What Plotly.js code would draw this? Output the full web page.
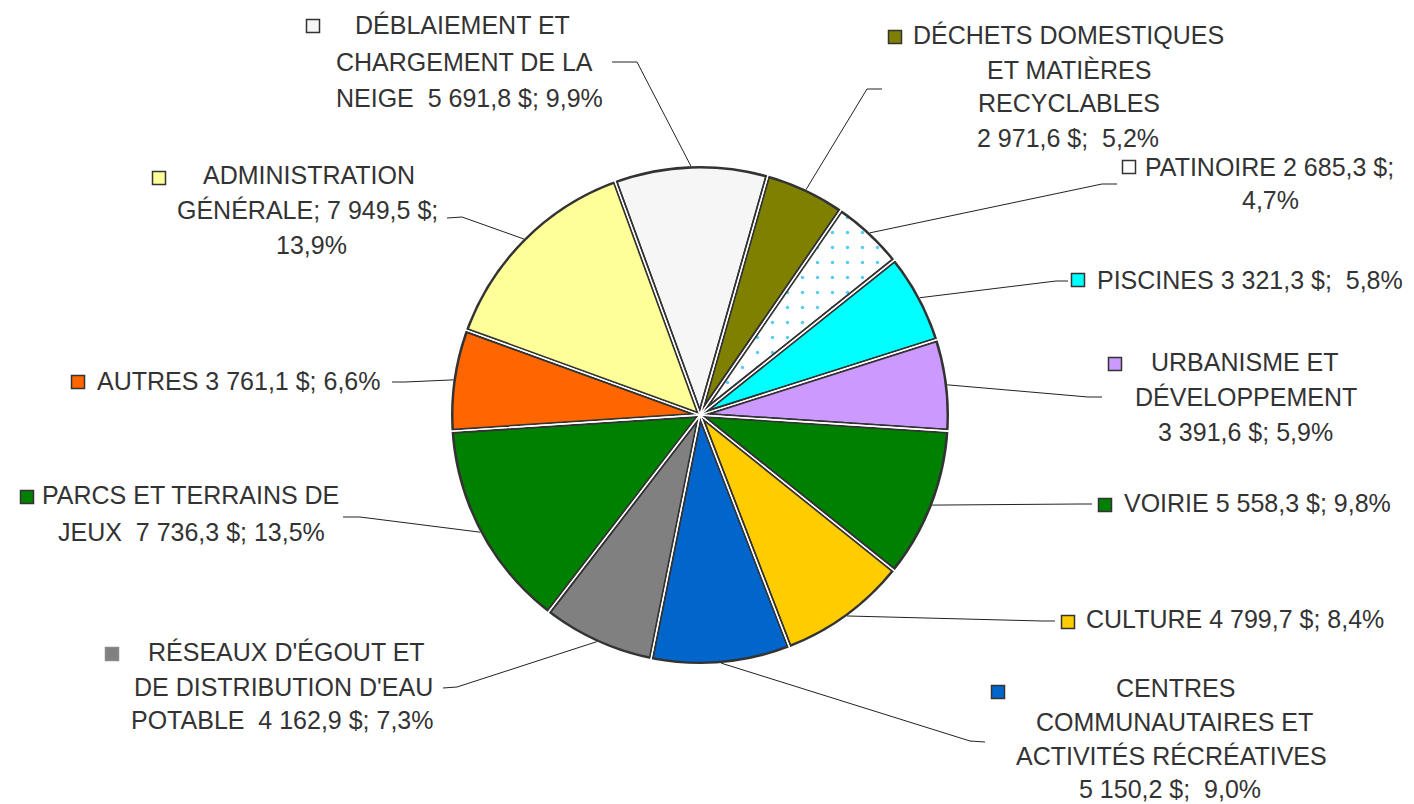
<!DOCTYPE html>
<html><head><meta charset="utf-8">
<script src="https://cdn.plot.ly/plotly-3.0.1.min.js"></script>
<style>html,body{margin:0;padding:0;background:#fff}#chart{width:1414px;height:804px}</style>
</head><body><div id="chart"></div>
<script>
// ---------- DATA ----------
const categories = [
  "DÉBLAIEMENT ET CHARGEMENT DE LA NEIGE",
  "DÉCHETS DOMESTIQUES ET MATIÈRES RECYCLABLES",
  "PATINOIRE",
  "PISCINES",
  "URBANISME ET DÉVELOPPEMENT",
  "VOIRIE",
  "CULTURE",
  "CENTRES COMMUNAUTAIRES ET ACTIVITÉS RÉCRÉATIVES",
  "RÉSEAUX D'ÉGOUT ET DE DISTRIBUTION D'EAU POTABLE",
  "PARCS ET TERRAINS DE JEUX",
  "AUTRES",
  "ADMINISTRATION GÉNÉRALE"
];
const values = [5691.8, 2971.6, 2685.3, 3321.3, 3391.6, 5558.3, 4799.7, 5150.2, 4162.9, 7736.3, 3761.1, 7949.5];
const percents = [9.9, 5.2, 4.7, 5.8, 5.9, 9.8, 8.4, 9.0, 7.3, 13.5, 6.6, 13.9];
// label text broken into lines ({v} = value, {p} = percent)
const labelLines = [
  ["DÉBLAIEMENT ET", "CHARGEMENT DE LA", "NEIGE  {v}; {p}"],
  ["DÉCHETS DOMESTIQUES", "ET MATIÈRES", "RECYCLABLES", "{v};  {p}"],
  ["PATINOIRE {v};", "{p}"],
  ["PISCINES {v};  {p}"],
  ["URBANISME ET", "DÉVELOPPEMENT", "{v}; {p}"],
  ["VOIRIE {v}; {p}"],
  ["CULTURE {v}; {p}"],
  ["CENTRES", "COMMUNAUTAIRES ET", "ACTIVITÉS RÉCRÉATIVES", "{v};  {p}"],
  ["RÉSEAUX D'ÉGOUT ET", "DE DISTRIBUTION D'EAU", "POTABLE  {v}; {p}"],
  ["PARCS ET TERRAINS DE", "JEUX  {v}; {p}"],
  ["AUTRES {v}; {p}"],
  ["ADMINISTRATION", "GÉNÉRALE; {v};", "{p}"]
];

// ---------- STYLE ----------
const colors = ["#F6F6F6", "#808000", "#FFFFFF", "#00FFFF", "#CC99FF", "#008000",
                "#FFCC00", "#0066CC", "#808080", "#008000", "#FF6600", "#FFFF99"];
const patterns = ["", "", ".", "", "", "", "", "", "", "", "", ""];
const keyBorders = ["#333", "#333", "#333", "#333", "#333", "#333", "#333", "#333", "#8a8a8a", "#333", "#333", "#333"];

// ---------- LAYOUT (pixel positions) ----------
const W = 1414, H = 804;
const CX = 700, CY = 415, R = 249;
const ROT = -20;
// per-label line centres
const lineX = [[462,464,469],[1068,1069,1069,1068],[1269,1270],[1250],[1245,1246,1245],[1257],[1235],
               [1175,1174,1171,1170],[286,283,282],[190,191],[238],[309,307,311]];
const lineY = [[25,62,98],[35,70,103,138],[167,200],[280],[362,397,432],[503],[619],
               [688,722,756,789],[652,687,720],[495,532],[381],[175,210,245]];
// legend key squares (centre)
const keyPos = [[313,26],[895,37],[1129,167],[1078,280],[1115,364],[1105,505],[1068,622],
                [998,692],[112,654],[27,497],[78,382],[159,178]];
// leader line elbow and end points
const leaderElbow = [[637,62],[867,89],[1102,184],[1056,281],[1088,397],[1080,504],[1042,621],
                     [970,741],[457,687],[360,517],[405,382],[462,217]];
const leaderEnd = [[612,62],[882,89],[1117,184],[1068,281],[1102,397],[1092,504],[1055,621],
                   [985,742],[443,688],[343,517],[392,382],[447,218]];

const px = x => x / W;
const py = y => 1 - y / H;
const fmtNum = v => {
  const parts = v.toFixed(1).split(".");
  return parts[0].replace(/\B(?=(\d{3})+(?!\d))/g, "\u00A0") + "," + parts[1];
};
const fmtPct = p => p.toFixed(1).replace(".", ",") + "%";

const total = values.reduce((a, b) => a + b, 0);

const FONT = {family: "Liberation Sans, Arial, sans-serif", size: 25, color: "#333333"};

const annotations = [];
const shapes = [];

// thin the outer dark rim
shapes.push({type: "circle", xref: "paper", yref: "paper",
  x0: px(CX - R - 1.6), x1: px(CX + R + 1.6), y0: py(CY + R + 1.6), y1: py(CY - R - 1.6),
  line: {color: "#ffffff", width: 3.2}, fillcolor: "rgba(0,0,0,0)"});

let cum = 0;
values.forEach((v, i) => {
  const mid = (ROT + (cum + v / 2) / total * 360) * Math.PI / 180;
  cum += v;
  const p0 = [CX + R * Math.sin(mid), CY - R * Math.cos(mid)];
  const e = leaderElbow[i], f = leaderEnd[i];
  shapes.push({type: "path", xref: "paper", yref: "paper",
    path: `M ${px(p0[0])} ${py(p0[1])} L ${px(e[0])} ${py(e[1])} L ${px(f[0])} ${py(f[1])}`,
    line: {color: "#222222", width: 1}});
  const k = keyPos[i], s = 6.5;
  shapes.push({type: "rect", xref: "paper", yref: "paper",
    x0: px(k[0] - s), x1: px(k[0] + s), y0: py(k[1] + s), y1: py(k[1] - s),
    fillcolor: colors[i], line: {color: keyBorders[i], width: 1.5}});
  labelLines[i].forEach((t, j) => {
    const txt = t.replace("{v}", fmtNum(v) + "\u00A0$").replace("{p}", fmtPct(percents[i]))
                 .replace(/  /g, "\u00A0 ");
    annotations.push({text: txt, x: px(lineX[i][j]), y: py(lineY[i][j]), xref: "paper", yref: "paper",
      xanchor: "center", yanchor: "middle", showarrow: false, font: FONT});
  });
});

const pieBase = {
  type: "pie", labels: categories, values: values, sort: false, direction: "clockwise",
  rotation: ROT, textinfo: "none", showlegend: false
};

const trace1 = Object.assign({}, pieBase, {
  hoverinfo: "label+value+percent",
  marker: {colors: colors, line: {color: "#333333", width: 5},
           pattern: {shape: patterns, fgcolor: "#55CCF5", size: 15, solidity: 0.04}},
  domain: {x: [px(CX - R), px(CX + R)], y: [py(CY + R), py(CY - R)]}
});
const R2 = R + 6;
const trace2 = Object.assign({}, pieBase, {
  hoverinfo: "skip",
  marker: {colors: values.map(() => "rgba(0,0,0,0)"), line: {color: "#ffffff", width: 1.3}},
  domain: {x: [px(CX - R2), px(CX + R2)], y: [py(CY + R2), py(CY - R2)]}
});

Plotly.newPlot("chart", [trace1, trace2], {
  width: W, height: H, margin: {l: 0, r: 0, t: 0, b: 0},
  paper_bgcolor: "#ffffff", plot_bgcolor: "#ffffff",
  annotations: annotations, shapes: shapes
}, {displayModeBar: false, staticPlot: true});
</script>
</body></html>
